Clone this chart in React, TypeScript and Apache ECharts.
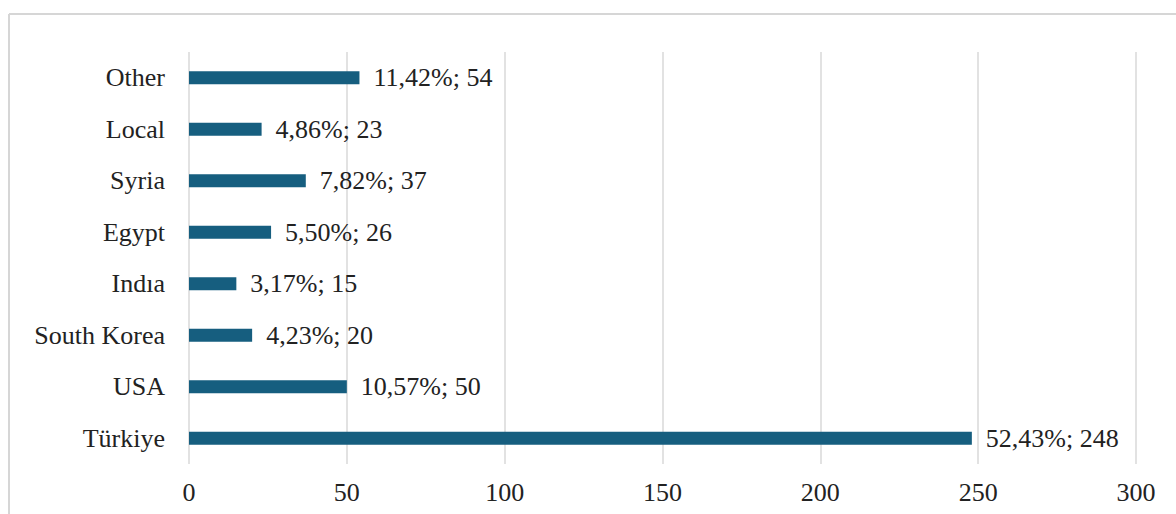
import React, { useEffect, useRef } from "react";
import * as echarts from "echarts";

const categories = ["Türkiye", "USA", "South Korea", "Indıa", "Egypt", "Syria", "Local", "Other"];
const counts = [248, 50, 20, 15, 26, 37, 23, 54];
const percents = ["52,43%", "10,57%", "4,23%", "3,17%", "5,50%", "7,82%", "4,86%", "11,42%"];
const xTicks = [0, 50, 100, 150, 200, 250, 300];

const FONT = "Liberation Serif";

export default function App() {
  const ref = useRef<HTMLDivElement>(null);
  useEffect(() => {
    document.body.style.margin = "0";
    const chart = echarts.init(ref.current!, null, { renderer: "svg" });
    chart.setOption({
      animation: false,
      backgroundColor: "#ffffff",
      textStyle: { fontFamily: FONT },
      grid: { left: 189, right: 40, top: 52, bottom: 50 },
      xAxis: {
        type: "value",
        min: xTicks[0],
        max: xTicks[xTicks.length - 1],
        interval: 50,
        axisLine: { show: false },
        axisTick: { show: false },
        splitLine: { lineStyle: { color: "#d9d9d9", width: 1.5 } },
        axisLabel: { fontFamily: FONT, fontSize: 26, color: "#222", margin: 15 },
      },
      yAxis: {
        type: "category",
        data: categories,
        axisLine: { show: false },
        axisTick: { show: false },
        axisLabel: { fontFamily: FONT, fontSize: 26, color: "#222", margin: 24 },
      },
      series: [
        {
          type: "bar",
          data: counts,
          barWidth: 13,
          itemStyle: { color: "#165e7f" },
          label: {
            show: true,
            position: "right",
            distance: 14,
            fontFamily: FONT,
            fontSize: 26,
            color: "#222",
            formatter: (p: any) => `${percents[p.dataIndex]}; ${counts[p.dataIndex]}`,
          },
        },
      ],
      graphic: [
        { type: "line", shape: { x1: 9, y1: 14, x2: 1176, y2: 14 }, style: { stroke: "#d6d6d6", lineWidth: 2 } },
        { type: "line", shape: { x1: 9, y1: 14, x2: 9, y2: 514 }, style: { stroke: "#d6d6d6", lineWidth: 2 } },
      ],
    });
    return () => chart.dispose();
  }, []);
  return <div ref={ref} style={{ width: 1176, height: 514 }} />;
}
